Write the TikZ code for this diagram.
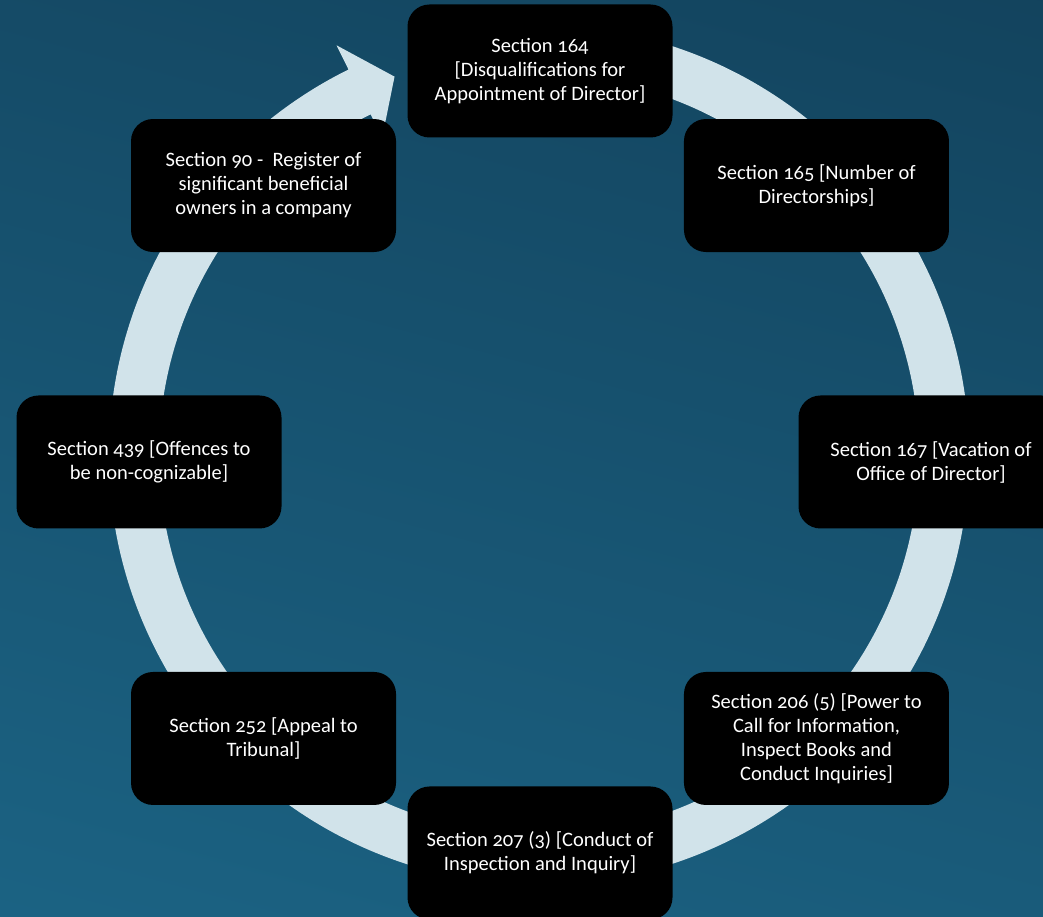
\documentclass[tikz,border=0pt]{standalone}
\usepackage{fontspec}
\setmainfont[Numbers=OldStyle]{Carlito}
\usetikzlibrary{calc}
\definecolor{bgtop}{HTML}{12415B}
\definecolor{bgbot}{HTML}{1C6586}
\definecolor{ringc}{HTML}{D1E3EA}
\tikzset{
  secbox/.style={fill=black, text=white, rounded corners=22pt,
    minimum width=265pt, minimum height=133pt, inner sep=0pt,
    align=center, font=\fontsize{20.5}{24}\selectfont}
}
\begin{document}
\begin{tikzpicture}[x=1pt,y=1pt]
\useasboundingbox (0,0) rectangle (1043,917);
\shade[top color=bgtop, bottom color=bgbot, shading angle=-15] (-200,-200) rectangle (1243,1117);
\clip (0,0) rectangle (1043,917);
\coordinate (R) at (539,462);
\coordinate (C) at (540,455);
% ring with arrow head
\fill[ringc] ($(R)+(116.3:430)$) arc[start angle=116.3, end angle=465, radius=430pt]
  -- ($(R)+(465:380)$) arc[start angle=465, end angle=116.3, radius=380pt]
  -- ($(R)+(116.3:354)$) -- ($(R)+(110.9:405)$) -- ($(R)+(116.3:457)$) -- cycle;
% boxes
\node[secbox] (s164) at ($(C)+(90:391)$) {Section 164\\\relax [Disqualifications for\\Appointment of Director]};
\node[secbox] (s165) at ($(C)+(45:391)$) {Section 165 [Number of\\Directorships]};
\node[secbox] (s167) at ($(C)+(0:391)$) {Section 167 [Vacation of\\Office of Director]};
\node[secbox] (s206) at ($(C)+(-45:391)$) {Section 206 (5) [Power to\\Call for Information,\\Inspect Books and\\Conduct Inquiries]};
\node[secbox] (s207) at ($(C)+(-90:391)$) {Section 207 (3) [Conduct of\\Inspection and Inquiry]};
\node[secbox] (s252) at ($(C)+(-135:391)$) {Section 252 [Appeal to\\Tribunal]};
\node[secbox] (s439) at ($(C)+(180:391)$) {Section 439 [Offences to\\be non-cognizable]};
\node[secbox] (s90) at ($(C)+(135:391)$) {Section 90 -\ \ Register of\\significant beneficial\\owners in a company};
\end{tikzpicture}
\end{document}
